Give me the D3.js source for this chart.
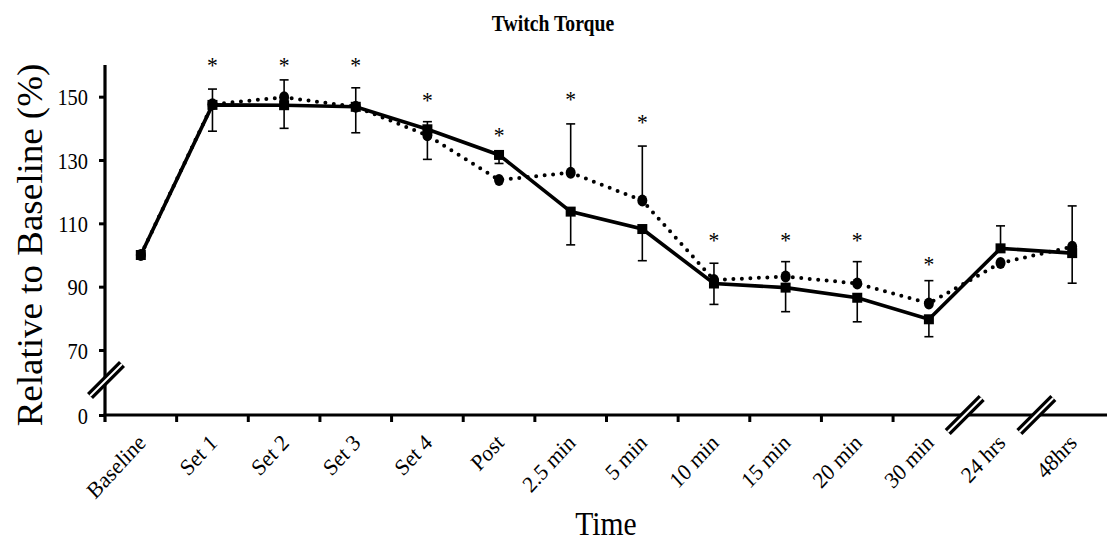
<!DOCTYPE html>
<html>
<head>
<meta charset="utf-8">
<script src="https://cdn.jsdelivr.net/npm/d3@7"></script>
<style>
  html, body { margin: 0; padding: 0; background: #fff; }
  svg { display: block; }
  text { font-family: "Liberation Serif", "Times New Roman", serif; fill: #000; }
</style>
</head>
<body>
<div id="chart"></div>
<script>
// Twitch torque relative to baseline across the protocol and recovery time points
const categories = ["Baseline", "Set 1", "Set 2", "Set 3", "Set 4", "Post", "2.5 min", "5 min",
                    "10 min", "15 min", "20 min", "30 min", "24 hrs", "48hrs"];

// Solid line with square markers
const solidValues = [100, 147.4, 147.3, 146.8, 139.7, 131.6, 113.7, 108.2, 91.0, 89.7, 86.5, 79.7, 102.1, 100.6];
const solidErrPlus = [0, 5.0, 0, 6.0, 2.4, 0, 0, 0, 0, 0, 0, 0, 7.1, 0];
const solidErrMinus = [0, 8.3, 7.3, 8.2, 0, 2.7, 10.5, 10.0, 6.6, 7.6, 7.6, 5.5, 0, 9.5];

// Dotted line with circle markers
const dottedValues = [100, 147.6, 149.8, 146.8, 137.8, 123.7, 126.0, 117.2, 92.1, 93.2, 91.0, 84.7, 97.5, 102.6];
const dottedErrPlus = [0, 0, 5.5, 0, 0, 0, 15.4, 17.2, 5.3, 4.7, 6.9, 7.2, 0, 12.9];
const dottedErrMinus = [0, 0, 0, 0, 7.6, 0, 0, 0, 0, 0, 0, 0, 0, 0];

// Significance asterisks (vertical level in axis units)
const starLevels = [null, 161.0, 161.0, 161.0, 150.0, 138.9, 150.2, 142.9, 105.8, 105.8, 105.8, 98.2, null, null];

const yTicks = [0, 70, 90, 110, 130, 150];
// Category boundaries replaced by axis-break marks
const breakBoundaries = [12, 13];

const W = 1107, H = 544;

const svg = d3.select("#chart").append("svg").attr("width", W).attr("height", H);

const x = d3.scaleBand().domain(categories).range([105, 1108]).paddingInner(0).paddingOuter(0);
// Broken axis: 0 sits just below the 70–160 segment
const y = d3.scaleLinear().domain([0, 70, 160]).range([415, 350, 65]);
const cx = c => x(c) + x.bandwidth() / 2;

// Title
svg.append("text")
  .attr("transform", "translate(553,31) scale(0.82,1)")
  .attr("text-anchor", "middle")
  .style("font-weight", "bold").style("font-size", "24px")
  .text("Twitch Torque");

// Y axis
const yAxis = d3.axisLeft(y).tickValues(yTicks).tickSize(6).tickPadding(10).tickFormat(d3.format("d"));
const gy = svg.append("g").attr("transform", "translate(105,0)").call(yAxis);
gy.select(".domain").remove();
gy.selectAll(".tick line").attr("stroke", "#000").attr("stroke-width", 3);
gy.selectAll(".tick text")
  .attr("x", null).attr("dy", null)
  .attr("transform", "translate(-17,0) scale(0.85,1)")
  .attr("dominant-baseline", "central")
  .style("font-size", "24px").attr("fill", "#000");
svg.append("line").attr("x1", 105).attr("x2", 105).attr("y1", y(160)).attr("y2", 422)
  .attr("stroke", "#000").attr("stroke-width", 3.2);

// X axis line and boundary ticks
svg.append("line").attr("x1", 103.5).attr("x2", W).attr("y1", 415).attr("y2", 415)
  .attr("stroke", "#000").attr("stroke-width", 3.2);
const boundaries = d3.range(1, categories.length).filter(i => !breakBoundaries.includes(i));
svg.selectAll("line.xtick").data(boundaries).join("line").attr("class", "xtick")
  .attr("x1", i => 105 + i * x.step()).attr("x2", i => 105 + i * x.step())
  .attr("y1", 415).attr("y2", 422).attr("stroke", "#000").attr("stroke-width", 3);

// X tick labels
svg.selectAll("text.xlab").data(categories).join("text").attr("class", "xlab")
  .attr("transform", c => `translate(${cx(c) + 6},444) scale(0.92,1) rotate(-45)`)
  .attr("text-anchor", "end").style("font-size", "23px")
  .text(c => c);

// Axis-break marks: black double slash with a white gap
function breakMark(px, py, half) {
  const d = `M${px - half},${py + half}L${px + half},${py - half}`;
  svg.append("path").attr("d", d).attr("stroke", "#000").attr("stroke-width", 8.5);
  svg.append("path").attr("d", d).attr("stroke", "#fff").attr("stroke-width", 2);
}
breakBoundaries.forEach(i => breakMark(105 + i * x.step(), 415, 17));
breakMark(106, 380, 16);

// Axis titles
svg.append("text")
  .attr("transform", "translate(42,245) scale(0.95,1) rotate(-90)")
  .attr("text-anchor", "middle").style("font-size", "37px")
  .text("Relative to Baseline (%)");
svg.append("text")
  .attr("transform", "translate(606,535) scale(0.87,1)")
  .attr("text-anchor", "middle").style("font-size", "34px")
  .text("Time");

// Lines
const line = d3.line().x((d, i) => cx(categories[i])).y(d => y(d));
svg.append("path").datum(dottedValues).attr("d", line)
  .attr("fill", "none").attr("stroke", "#000").attr("stroke-width", 4)
  .attr("stroke-linecap", "round").attr("stroke-dasharray", "0 8.5");
svg.append("path").datum(solidValues).attr("d", line)
  .attr("fill", "none").attr("stroke", "#000").attr("stroke-width", 3.6)
  .attr("stroke-linejoin", "miter");

// Error bars
function errorBars(values, plus, minus) {
  const segs = [];
  values.forEach((v, i) => {
    if (plus[i] > 0) segs.push({ i, from: v, to: v + plus[i] });
    if (minus[i] > 0) segs.push({ i, from: v, to: v - minus[i] });
  });
  const g = svg.append("g").attr("stroke", "#000").attr("stroke-width", 1.6);
  g.selectAll("line.bar").data(segs).join("line").attr("class", "bar")
    .attr("x1", s => cx(categories[s.i])).attr("x2", s => cx(categories[s.i]))
    .attr("y1", s => y(s.from)).attr("y2", s => y(s.to));
  g.selectAll("line.cap").data(segs).join("line").attr("class", "cap")
    .attr("x1", s => cx(categories[s.i]) - 4.5).attr("x2", s => cx(categories[s.i]) + 4.5)
    .attr("y1", s => y(s.to)).attr("y2", s => y(s.to));
}
errorBars(dottedValues, dottedErrPlus, dottedErrMinus);
errorBars(solidValues, solidErrPlus, solidErrMinus);

// Markers
svg.selectAll("ellipse.dot").data(dottedValues).join("ellipse").attr("class", "dot")
  .attr("cx", (d, i) => cx(categories[i])).attr("cy", d => y(d))
  .attr("rx", 5).attr("ry", 6).attr("fill", "#000");
svg.selectAll("rect.sq").data(solidValues).join("rect").attr("class", "sq")
  .attr("x", (d, i) => cx(categories[i]) - 5).attr("y", d => y(d) - 5)
  .attr("width", 10).attr("height", 10).attr("fill", "#000");

// Significance asterisks
svg.selectAll("text.star").data(starLevels.map((v, i) => ({ v, i })).filter(d => d.v !== null))
  .join("text").attr("class", "star")
  .attr("transform", d => `translate(${cx(categories[d.i])},${y(d.v) + 11}) scale(0.9,1)`)
  .attr("text-anchor", "middle").style("font-size", "24px").attr("fill", "#555")
  .text("*");
</script>
</body>
</html>
